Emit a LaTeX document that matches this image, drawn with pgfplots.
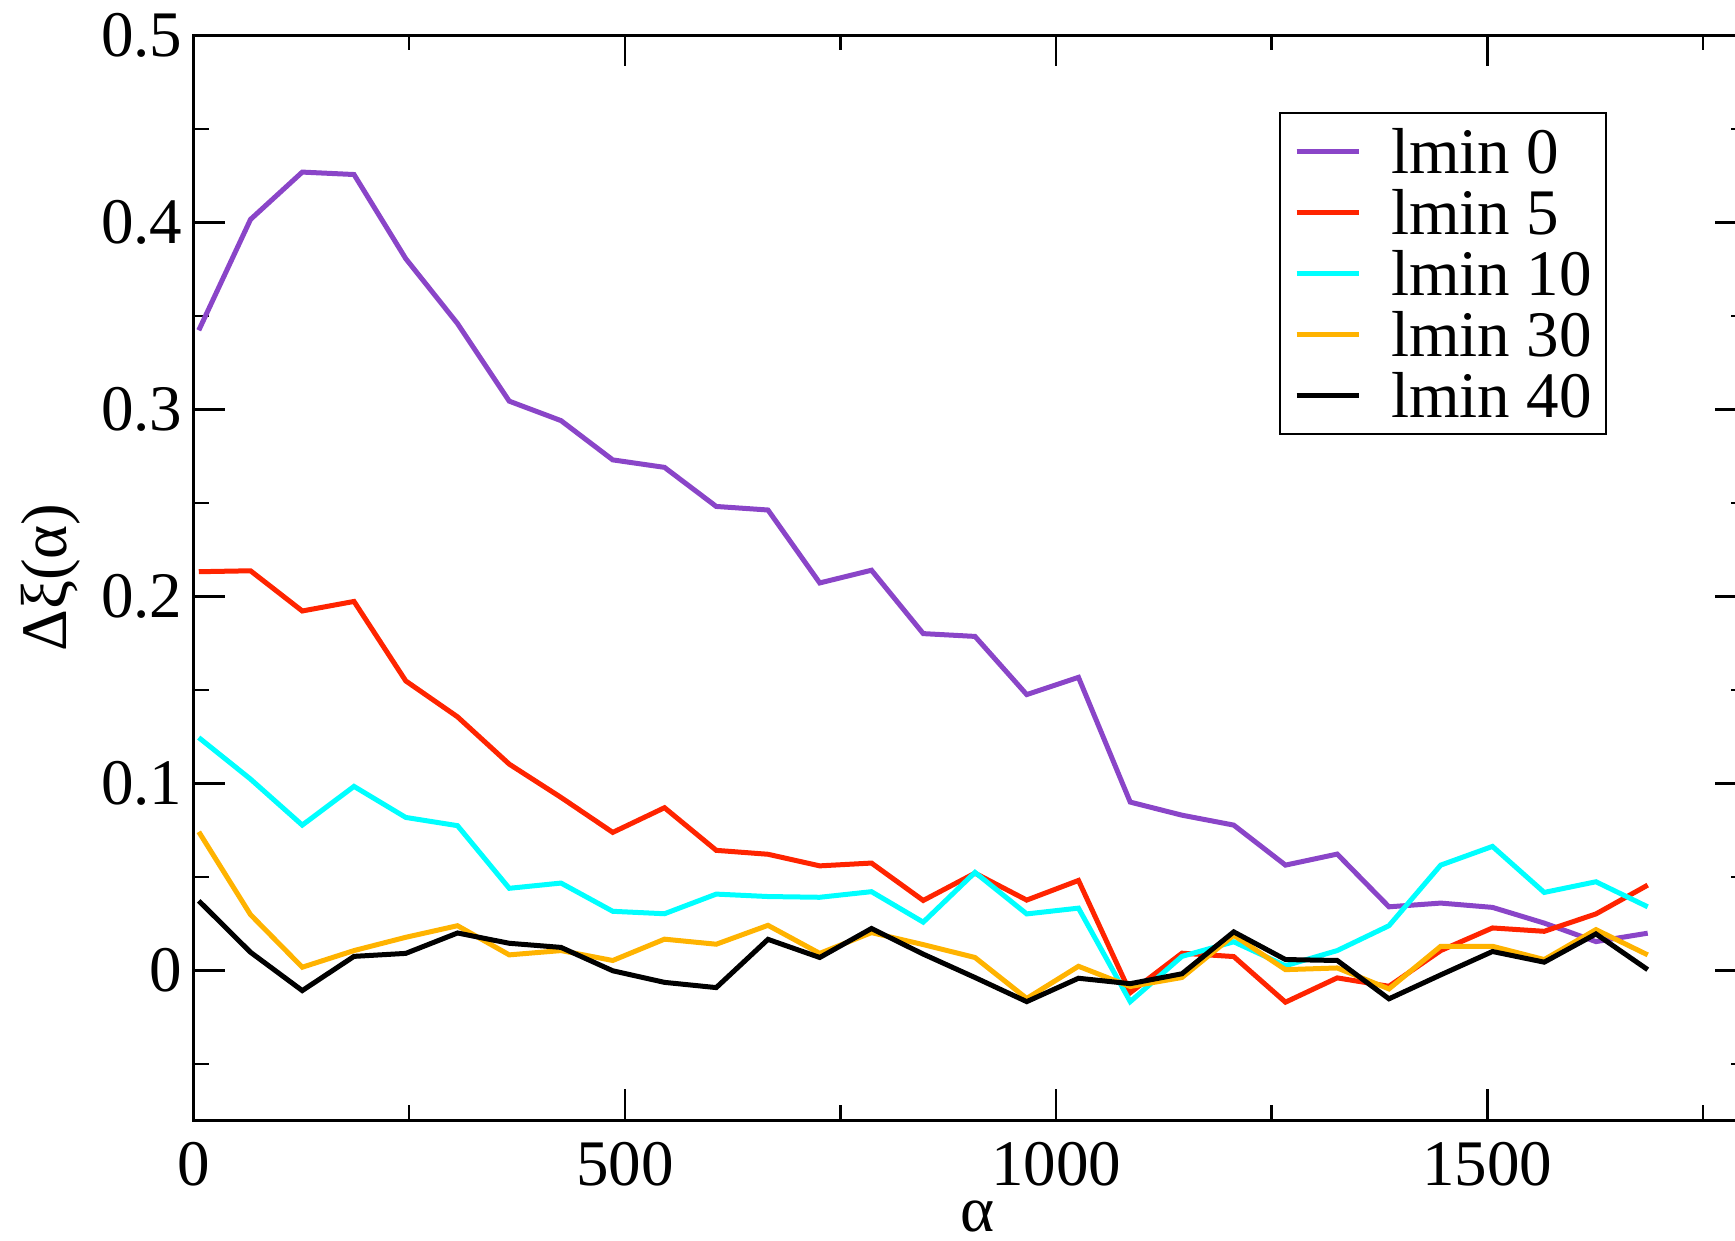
\documentclass[border=0pt]{standalone}
\usepackage{fontspec}
\setmainfont{Liberation Serif}
\usepackage{pgfplots}
\pgfplotsset{compat=1.18}
\usepackage{pgfplotstable}
\usetikzlibrary{calc}
\definecolor{cPurple}{HTML}{8A45C8}
\definecolor{cRed}{HTML}{FF2400}
\definecolor{cCyan}{HTML}{00FFFF}
\definecolor{cOrange}{HTML}{FFB300}

\pgfplotstableread{
x     l0      l5      l10     l30     l40
6     0.3423  0.2132  0.1245  0.0741  0.0372
66    0.4016  0.2137  0.1023  0.0298  0.0097
126   0.4269  0.1922  0.0777  0.0017  -0.0108
186   0.4256  0.1973  0.0984  0.0106  0.0075
246   0.3806  0.1548  0.0818  0.0177  0.0091
306   0.3459  0.1356  0.0774  0.0239  0.0200
366   0.3044  0.1103  0.0439  0.0083  0.0145
426   0.2940  0.0925  0.0467  0.0106  0.0123
486   0.2730  0.0738  0.0316  0.0053  -0.0002
546   0.2690  0.0870  0.0303  0.0167  -0.0064
606   0.2481  0.0642  0.0408  0.0140  -0.0092
666   0.2462  0.0621  0.0395  0.0241  0.0166
726   0.2072  0.0559  0.0391  0.0091  0.0069
786   0.2140  0.0574  0.0421  0.0202  0.0224
846   0.1801  0.0374  0.0258  0.0138  0.0087
906   0.1786  0.0520  0.0524  0.0069  -0.0038
966   0.1475  0.0376  0.0302  -0.0150 -0.0167
1026  0.1567  0.0481  0.0333  0.0022  -0.0042
1086  0.0900  -0.0119 -0.0167 -0.0086 -0.0071
1146  0.0830  0.0092  0.0075  -0.0038 -0.0018
1206  0.0777  0.0074  0.0153  0.0188  0.0206
1266  0.0563  -0.0170 0.0025  0.0004  0.0058
1326  0.0622  -0.0040 0.0106  0.0013  0.0053
1386  0.0340  -0.0085 0.0239  -0.0099 -0.0152
1446  0.0360  0.0106  0.0563  0.0129  -0.0024
1506  0.0337  0.0227  0.0663  0.0129  0.0101
1566  0.0253  0.0209  0.0417  0.0058  0.0044
1626  0.0154  0.0302  0.0474  0.0218  0.0195
1686  0.0199  0.0456  0.0340  0.0083  0.0004
}\datatable

\begin{document}
\fontsize{13}{15.6}\selectfont
\begin{tikzpicture}
\begin{axis}[
    scale only axis,
    width=310.48pt,
    height=216.92pt,
    xmin=0, xmax=1800,
    ymin=-0.08, ymax=0.5,
    xtick={0,500,1000,1500},
    minor xtick={250,750,1250,1750},
    ytick={0,0.1,0.2,0.3,0.4,0.5},
    minor ytick={-0.05,0.05,0.15,0.25,0.35,0.45},
    yticklabels={0,0.1,0.2,0.3,0.4,0.5},
    tick align=inside,
    major tick length=6.2pt,
    minor tick length=3pt,
    every tick/.style={black, line width=0.5pt},
    axis line style={line width=0.6pt},
    /pgf/number format/assume math mode=true,
    /pgf/number format/1000 sep={},
    yticklabel style={xshift=2.3pt},
    xlabel={α},
    ylabel={Δξ(α)},
    xlabel style={at={(axis description cs:0.505,0)}, anchor=base, yshift=-22.2pt},
    ylabel style={at={(axis description cs:0,0.5)}, anchor=center, yshift=28.5pt},
    legend cell align=left,
    legend image code/.code={\draw[#1] (0pt,0pt) -- (12.4pt,0pt);},
    legend style={
        at={(axis description cs:0.6992,0.9294)}, anchor=north west,
        draw=black, line width=0.4pt,
        inner xsep=2.8pt, inner ysep=1.6pt,
        column sep=6pt, row sep=0pt,
        nodes={inner sep=0pt, text height=10.6pt, text depth=1.6pt},
    },
    every axis plot/.append style={line width=1pt},
]
\addplot[cPurple, no markers] table[x=x, y=l0] {\datatable};
\addlegendentry{lmin 0}
\addplot[cRed, no markers] table[x=x, y=l5] {\datatable};
\addlegendentry{lmin 5}
\addplot[cCyan, no markers] table[x=x, y=l10] {\datatable};
\addlegendentry{lmin 10}
\addplot[cOrange, no markers] table[x=x, y=l30] {\datatable};
\addlegendentry{lmin 30}
\addplot[black, no markers] table[x=x, y=l40] {\datatable};
\addlegendentry{lmin 40}
\end{axis}
\pgfresetboundingbox
\path[use as bounding box]
    ([xshift=-38.72pt,yshift=-24.2pt]current axis.south west)
    rectangle ([xshift=-2.2pt,yshift=7.08pt]current axis.north east);
\end{tikzpicture}
\end{document}
